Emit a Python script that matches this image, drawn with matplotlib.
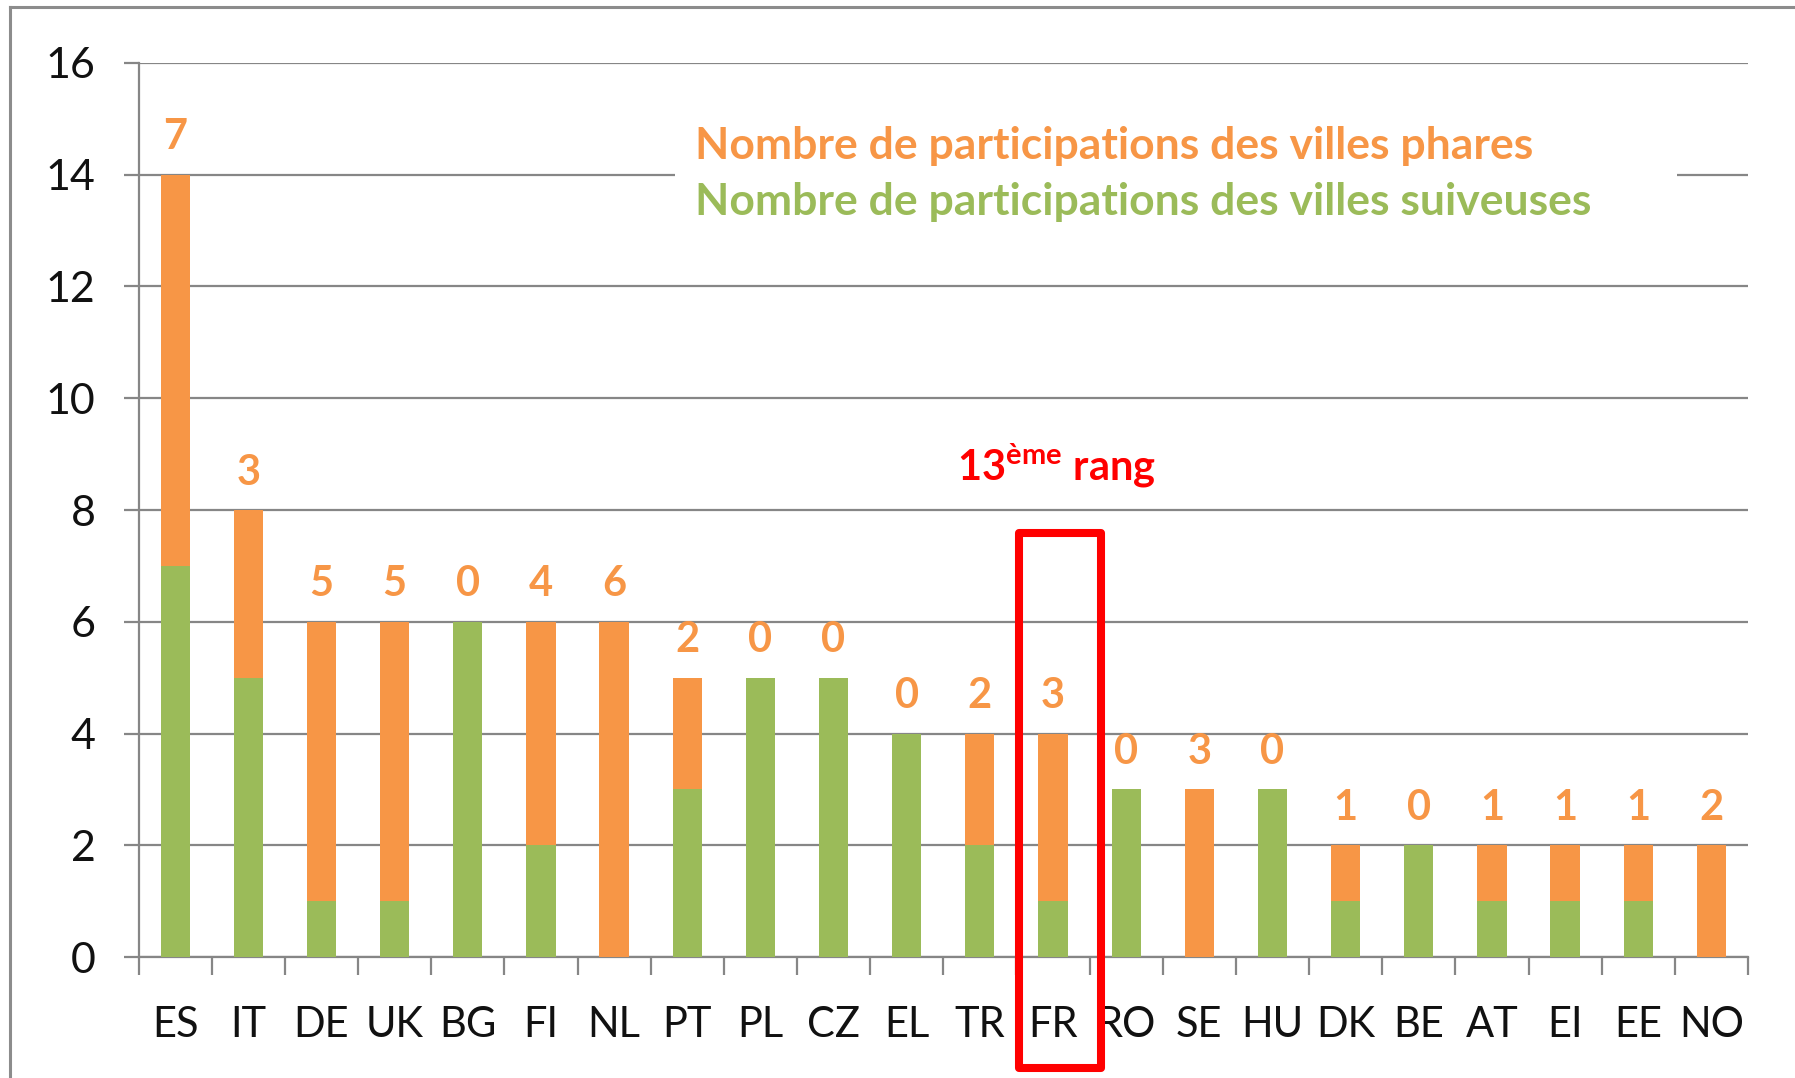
import matplotlib
matplotlib.use("Agg")
import matplotlib.pyplot as plt
from matplotlib.lines import Line2D
from matplotlib.patches import Rectangle
import numpy as np

# data
countries = ["ES", "IT", "DE", "UK", "BG", "FI", "NL", "PT", "PL", "CZ", "EL",
             "TR", "FR", "RO", "SE", "HU", "DK", "BE", "AT", "EI", "EE", "NO"]
suiveuses = [7, 5, 1, 1, 6, 2, 0, 3, 5, 5, 4, 2, 1, 3, 0, 3, 1, 2, 1, 1, 1, 0]
phares = [7, 3, 5, 5, 0, 4, 6, 2, 0, 0, 0, 2, 3, 0, 3, 0, 1, 0, 1, 1, 1, 2]
label_phares = "Nombre de participations des villes phares"
label_suiveuses = "Nombre de participations des villes suiveuses"
highlight = "FR"
highlight_text = r"13$^{\mathrm{ème}}$ rang"

ORANGE = "#F79646"
GREEN = "#9BBB59"
GRID = "#868686"

plt.rcParams["font.family"] = ["Lato", "DejaVu Sans"]
plt.rcParams["mathtext.fontset"] = "custom"
plt.rcParams["mathtext.rm"] = "Lato:bold"
plt.rcParams["mathtext.bf"] = "Lato:bold"

fig = plt.figure(figsize=(17.95, 10.78), dpi=100)
ax = fig.add_axes([0.0772, 0.1122, 0.8966, 0.8294])

x = np.arange(len(countries))
sv = np.array(suiveuses)
ph = np.array(phares)
b_green = ax.bar(x, sv, width=0.4, color=GREEN, zorder=3, label=label_suiveuses)
b_orange = ax.bar(x, ph, width=0.4, bottom=sv, color=ORANGE, zorder=3,
                  label=label_phares)

for xi, top, val in zip(x, sv + ph, ph):
    ax.annotate(str(val), xy=(xi, top), xytext=(0, 27), textcoords="offset points",
                ha="center", va="center", color=ORANGE, fontsize=30,
                fontweight="bold", zorder=4)

ax.set_xlim(-0.5, len(countries) - 0.5)
ax.set_ylim(0, 16)
ax.set_yticks(np.arange(0, 17, 2))
ax.set_xticks(x)
ax.set_xticklabels(countries)
ax.set_xticks(np.arange(-0.5, len(countries), 1), minor=True)

ax.grid(axis="y", color=GRID, linewidth=1.6, zorder=0)
for s in ["top", "right"]:
    ax.spines[s].set_visible(False)
for s in ["left", "bottom"]:
    ax.spines[s].set_color(GRID)
    ax.spines[s].set_linewidth(1.6)

ax.tick_params(axis="y", length=11, width=1.6, color=GRID, pad=20,
               labelsize=31, labelcolor="#111111")
ax.tick_params(axis="x", which="major", length=0, pad=35, labelsize=30,
               labelcolor="#111111")
ax.tick_params(axis="x", which="minor", length=13, width=1.6, color=GRID)

# white band behind the legend hiding the 14 gridline
ax.add_patch(Rectangle((0.3336, 0.80), 0.6224, 0.14, transform=ax.transAxes,
                       facecolor="white", edgecolor="none", zorder=2))
leg = ax.legend(handles=[b_orange, b_green], loc="upper left",
                bbox_to_anchor=(0.3457, 0.93), handlelength=0, handletextpad=0,
                fontsize=32, frameon=False, borderpad=0, labelspacing=0.36,
                borderaxespad=0)
for h in leg.legend_handles:
    h.set_visible(False)
for txt, col in zip(leg.get_texts(), [ORANGE, GREEN]):
    txt.set_color(col)
    txt.set_fontweight("bold")
leg.set_zorder(5)

# highlight box around France
hi = countries.index(highlight)
ax.add_patch(Rectangle((hi - 0.46, -1.99), 1.12, 9.58, fill=False,
                       edgecolor="#FF0000", linewidth=5.8, joinstyle="round",
                       clip_on=False, zorder=6))
ax.text(hi + 0.05, 8.8, highlight_text, ha="center", va="center",
        color="#FF0000", fontsize=30, fontweight="bold", zorder=6)

# outer frame
fig.add_artist(Line2D([10 / 1795, 10 / 1795], [0, 1 - 7 / 1078],
                      color="#8C8C8C", linewidth=2.2, transform=fig.transFigure))
fig.add_artist(Line2D([10 / 1795, 1], [1 - 7 / 1078, 1 - 7 / 1078],
                      color="#8C8C8C", linewidth=2.2, transform=fig.transFigure))

fig.savefig("out.png", dpi=100)
